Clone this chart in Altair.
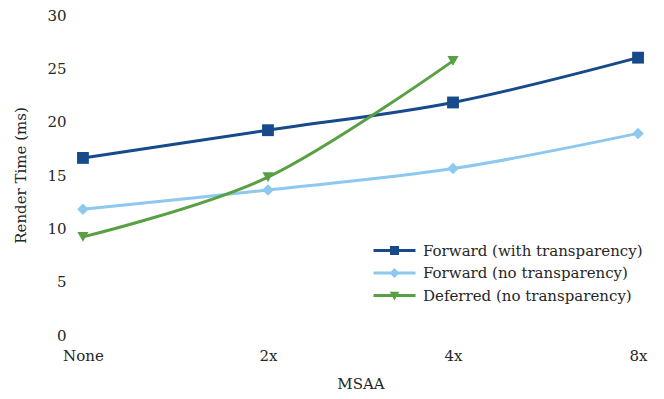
import altair as alt
import pandas as pd

# MSAA levels on the x axis
msaa = ["None", "2x", "4x", "8x"]

# Render times in milliseconds per technique
fwd_with_transparency = [16.6, 19.2, 21.8, 26.0]
fwd_no_transparency = [11.8, 13.6, 15.6, 18.9]
deferred_no_transparency = [9.2, 14.8, 25.7]  # no 8x measurement

series_names = [
    "Forward (with transparency)",
    "Forward (no transparency)",
    "Deferred (no transparency)",
]
series_colors = ["#174A8A", "#8DC8EE", "#59A044"]
series_shapes = ["square", "diamond", "triangle-down"]

rows = []
for name, values in zip(series_names,
                        [fwd_with_transparency, fwd_no_transparency, deferred_no_transparency]):
    for level, v in zip(msaa, values):
        rows.append({"msaa": level, "ms": v, "series": name})
df = pd.DataFrame(rows)

FONT = "DejaVu Serif"
TEXT = "#262626"
FS = 15

# Legend glyphs: a short line segment with the series marker in the middle
LINE = "M-4.2,-0.3H4.2V0.3H-4.2Z"
legend_glyphs = [
    LINE + " M-0.9,-0.9H0.9V0.9H-0.9Z",
    LINE + " M0,-1.0L1.0,0L0,1.0L-1.0,0Z",
    LINE + " M-0.95,-0.75L0.95,-0.75L0,1.0Z",
]


def color_scale():
    return alt.Scale(domain=series_names, range=series_colors)


x = alt.X(
    "msaa:N",
    sort=msaa,
    scale=alt.Scale(type="point", domain=msaa, padding=0.07),
    axis=alt.Axis(
        title="MSAA",
        labelAngle=0,
        domain=False,
        ticks=False,
        tickSize=0,
        labelPadding=13,
        titlePadding=13,
    ),
)
y = alt.Y(
    "ms:Q",
    scale=alt.Scale(domain=[0, 30], nice=False),
    axis=alt.Axis(
        title="Render Time (ms)",
        values=[0, 5, 10, 15, 20, 25, 30],
        domain=False,
        ticks=False,
        tickSize=0,
        grid=False,
        labelPadding=4,
        titlePadding=18,
    ),
)

lines = alt.Chart(df).mark_line(interpolate="cardinal", strokeWidth=3).encode(
    x=x,
    y=y,
    color=alt.Color("series:N", scale=color_scale(), legend=None),
    detail="series:N",
)

points = alt.Chart(df).mark_point(filled=True, opacity=1).encode(
    x=x,
    y=y,
    color=alt.Color("series:N", scale=color_scale(), legend=None),
    shape=alt.Shape(
        "series:N",
        scale=alt.Scale(domain=series_names, range=series_shapes),
        legend=None,
    ),
    size=alt.Size(
        "series:N",
        scale=alt.Scale(domain=series_names, range=[140, 125, 155]),
        legend=None,
    ),
)

legend_props = dict(
    title=None,
    orient="none",
    legendX=317,
    legendY=228,
    symbolSize=100,
    labelFont=FONT,
    labelFontSize=FS,
    labelColor=TEXT,
    labelOffset=21,
    labelLimit=400,
    rowPadding=6.5,
    symbolStrokeWidth=0,
)

# Legend-only layer: no rows survive the filter, the scales carry the entries
legend_layer = (
    alt.Chart(df)
    .transform_filter("false")
    .mark_point(filled=True, opacity=1)
    .encode(
        x=x,
        y=y,
        color=alt.Color("series:N", scale=color_scale(), legend=alt.Legend(**legend_props)),
        shape=alt.Shape(
            "series:N",
            scale=alt.Scale(domain=series_names, range=legend_glyphs),
            legend=alt.Legend(**legend_props),
        ),
    )
)

chart = (
    alt.layer(lines, points, legend_layer)
    .resolve_scale(shape="independent", size="independent", color="independent")
    .properties(
        width=581,
        height=320,
        padding={"left": 70, "top": 15, "right": 13, "bottom": 64},
        autosize=alt.AutoSizeParams(type="none"),
        background="white",
    )
    .configure_view(stroke=None)
    .configure_axis(
        labelFont=FONT,
        titleFont=FONT,
        labelFontSize=FS,
        titleFontSize=FS,
        titleFontWeight="normal",
        labelColor=TEXT,
        titleColor=TEXT,
    )
)

chart.save("out.html", embed_options={"renderer": "svg", "actions": False})
